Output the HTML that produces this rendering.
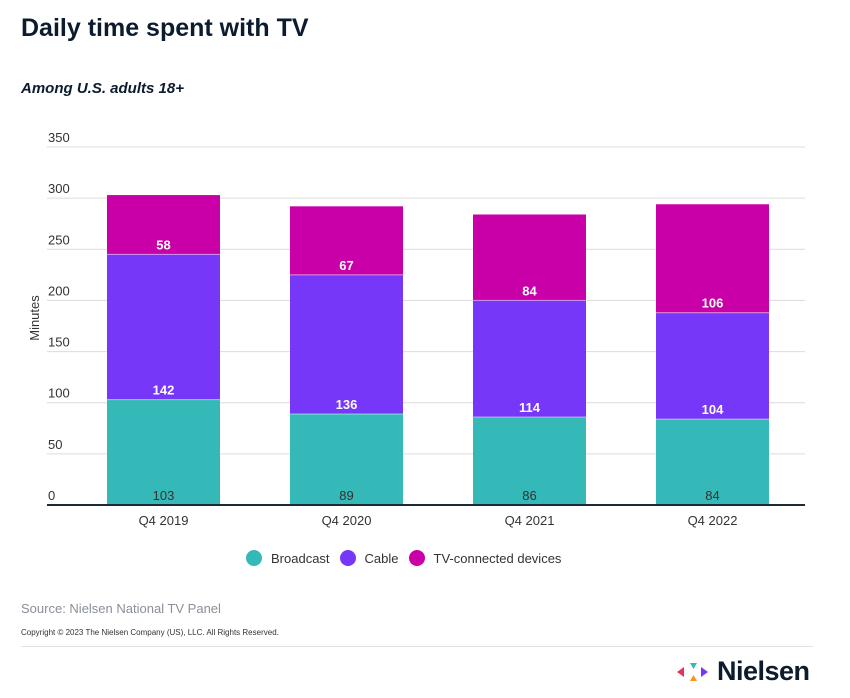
<!DOCTYPE html>
<html><head><meta charset="utf-8"><style>
body{margin:0;background:#fff;font-family:"Liberation Sans",sans-serif;}
#wrap{position:relative;width:850px;height:698px;overflow:hidden;}
</style></head><body>
<div id="wrap">
<div style="position:absolute;left:21px;top:14px;font-size:25px;font-weight:bold;color:#0d1b2e;">Daily time spent with TV</div>
<div style="position:absolute;left:21px;top:80px;font-size:15px;font-style:italic;font-weight:bold;color:#0d1b2e;">Among U.S. adults 18+</div>
<svg id="chart" width="850" height="560" style="position:absolute;left:0;top:0"></svg>
<div style="position:absolute;top:550px;left:246px;font-size:13px;color:#333;display:flex;align-items:center;">
<span style="display:flex;align-items:center;margin-right:10px"><span style="width:16px;height:16px;border-radius:50%;background:#34b8b8;display:inline-block;margin-right:9px"></span>Broadcast</span>
<span style="display:flex;align-items:center;margin-right:10px"><span style="width:16px;height:16px;border-radius:50%;background:#7637f8;display:inline-block;margin-right:9px"></span>Cable</span>
<span style="display:flex;align-items:center"><span style="width:16px;height:16px;border-radius:50%;background:#c900a8;display:inline-block;margin-right:9px"></span>TV-connected devices</span>
</div>
<div style="position:absolute;left:21px;top:601px;font-size:13px;color:#8a8f99;">Source: Nielsen National TV Panel</div>
<div style="position:absolute;left:21px;top:628px;font-size:8px;color:#333;">Copyright © 2023 The Nielsen Company (US), LLC. All Rights Reserved.</div>
<div style="position:absolute;left:21px;top:646px;width:792px;height:1px;background:#e2e2e2"></div>
<div style="position:absolute;left:677px;top:656px;display:flex;align-items:center;">
<svg width="36" height="28" viewBox="0 0 36 28"><polygon points="0,14 7,9 7,19" fill="#e8325a"/><polygon points="13,5 20,5 16.5,11" fill="#34b8b8"/><polygon points="13,23 20,23 16.5,17" fill="#f7941d"/><polygon points="24,9 31,14 24,19" fill="#7637f8"/></svg>
<span style="font-size:27px;font-weight:bold;color:#0d1b2e;margin-left:4px;letter-spacing:-0.5px">Nielsen</span>
</div>
</div>
<script>
const categories=["Q4 2019","Q4 2020","Q4 2021","Q4 2022"];
const broadcast=[103,89,86,84];
const cable=[142,136,114,104];
const tvConnected=[58,67,84,106];
const ticks=[0,50,100,150,200,250,300,350];
const svg=document.getElementById('chart');
const NS='http://www.w3.org/2000/svg';
const x0=47,x1=805,yBase=505,yTop=147,maxV=350;
const y=v=>yBase-(v/maxV)*(yBase-yTop);
const step=183,bw=113,firstX=107;
const xb=i=>firstX+i*step;
function mk(t,a){const e=document.createElementNS(NS,t);for(const k in a)e.setAttribute(k,a[k]);svg.appendChild(e);return e;}
ticks.forEach(t=>{
 if(t>0){const l=mk('line',{x1:x0,x2:x1,y1:y(t),y2:y(t),stroke:'#dcdcdc','stroke-width':1});
 
 }
 const tx=mk('text',{x:48,y:y(t)-5,'font-size':13,fill:'#333','font-family':'Liberation Sans, sans-serif'});
 tx.textContent=t;
 
 
});
const yt=mk('text',{x:0,y:0,'font-size':13,fill:'#333','text-anchor':'middle',transform:'translate(39,318) rotate(-90)','font-family':'Liberation Sans, sans-serif'});
yt.textContent='Minutes';


const series=[[broadcast,'#34b8b8','broadcast'],[cable,'#7637f8','cable'],[tvConnected,'#c900a8','tv-connected']];
categories.forEach((c,i)=>{
 let acc=0;
 series.forEach(([arr,col,nm])=>{
  const v=arr[i];
  const r=mk('rect',{x:xb(i),y:y(acc+v),width:bw,height:y(acc)-y(acc+v),fill:col});
  
  
  const t=mk('text',{x:xb(i)+bw/2,y:y(acc)-5,'font-size':13,'font-weight':nm==='broadcast'?'normal':'bold',fill:nm==='broadcast'?'#333':'#fff','text-anchor':'middle','font-family':'Liberation Sans, sans-serif'});
  t.textContent=v;
  
  
  if(acc>0){mk('line',{x1:xb(i),x2:xb(i)+bw,y1:y(acc),y2:y(acc),stroke:'#ffffff','stroke-opacity':0.5,'stroke-width':1});}
  acc+=v;
 });
 const xl=mk('text',{x:xb(i)+bw/2,y:525,'font-size':13,fill:'#333','text-anchor':'middle','font-family':'Liberation Sans, sans-serif'});
 xl.textContent=c;
 
 
});
const ax=mk('line',{x1:x0,x2:x1,y1:yBase,y2:yBase,stroke:'#1d2a3a','stroke-width':2});


</script>
</body></html>
